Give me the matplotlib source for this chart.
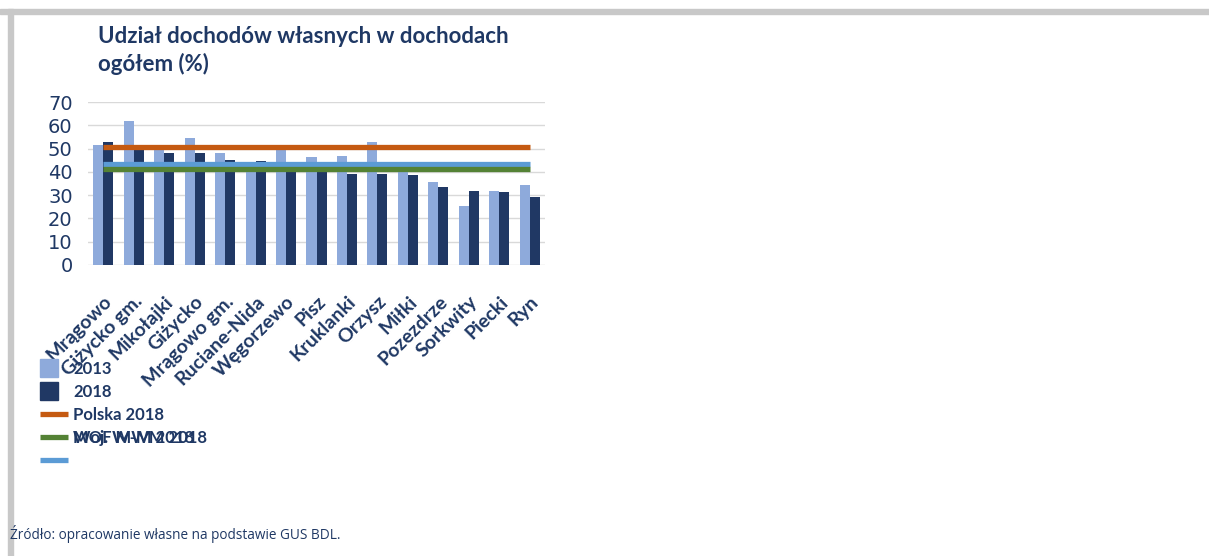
import numpy as np
import matplotlib
matplotlib.use("Agg")
import matplotlib.pyplot as plt
from matplotlib.patches import Rectangle
from matplotlib.legend_handler import HandlerPatch

gminy = ["Mrągowo", "Giżycko gm.", "Mikołajki", "Giżycko", "Mrągowo gm.",
         "Ruciane-Nida", "Węgorzewo", "Pisz", "Kruklanki", "Orzysz", "Miłki",
         "Pozezdrze", "Sorkwity", "Piecki", "Ryn"]
v2013 = [51.6, 61.7, 50.2, 54.5, 48.1, 44.0, 49.8, 46.2, 46.8, 52.8, 41.5,
         35.7, 25.4, 31.9, 34.3]
v2018 = [52.7, 49.2, 48.1, 48.1, 45.0, 44.8, 42.0, 40.5, 39.2, 39.2, 38.6,
         33.4, 31.6, 31.4, 29.0]
polska_2018 = [50.6] * len(gminy)
woj_2018 = [41.3] * len(gminy)
mof_2018 = [43.3] * len(gminy)

navy = "#1f3864"
c2013 = "#8eaadb"
c2018 = "#203864"

fig = plt.figure(figsize=(12.09, 5.56), dpi=100)

# szara ramka u gory i z lewej
fig.patches.append(Rectangle((0, 1 - 14 / 556), 1, 5 / 556, transform=fig.transFigure,
                             color="#c8c8c8", zorder=0))
fig.patches.append(Rectangle((8 / 1209, 0), 5 / 1209, 1 - 9 / 556, transform=fig.transFigure,
                             color="#c8c8c8", zorder=0))

ax = fig.add_axes([88 / 1209, 1 - 265 / 556, 457 / 1209, 163 / 556])

x = np.arange(len(gminy))
w = 0.33
b1 = ax.bar(x - w / 2, v2013, w, color=c2013, zorder=2)
b2 = ax.bar(x + w / 2, v2018, w, color=c2018, zorder=2)
l1, = ax.plot(x, polska_2018, color="#c55a11", lw=3.8, zorder=3, solid_capstyle="butt")
l3, = ax.plot(x, mof_2018, color="#5b9bd5", lw=3.8, zorder=3, solid_capstyle="butt")
l2, = ax.plot(x, woj_2018, color="#548235", lw=3.8, zorder=3, solid_capstyle="butt")

ax.set_xlim(-0.5, len(gminy) - 0.5)
ax.set_ylim(0, 70)
ax.set_yticks(range(0, 71, 10))
ax.grid(axis="y", color="#d9d9d9", lw=1, zorder=0)
for s in ax.spines.values():
    s.set_visible(False)
ax.tick_params(axis="y", length=0, pad=11, labelsize=14, labelcolor=navy)
ax.tick_params(axis="x", length=0, pad=20)
ax.set_xticks(x)
ax.set_xticklabels(gminy, rotation=45, ha="right", va="top", rotation_mode="anchor",
                   fontsize=14, fontweight="bold", color=navy, family="Lato")

# tytul (dwie linie)
fig.text(98 / 1209, 1 - 43 / 556, "Udział dochodów własnych w dochodach",
         ha="left", va="baseline", fontsize=16, fontweight="bold", color=navy, family="Lato")
fig.text(98 / 1209, 1 - 71 / 556, "ogółem (%)",
         ha="left", va="baseline", fontsize=16, fontweight="bold", color=navy, family="Lato")


def kwadrat(legend, orig_handle, xdescent, ydescent, width, height, fontsize):
    s = 13
    return Rectangle((-xdescent, -ydescent + height / 2 - s / 2), s, s)


h2013 = Rectangle((0, 0), 1, 1, color=c2013)
h2018 = Rectangle((0, 0), 1, 1, color=c2018)
leg = fig.legend([h2013, h2018, l1, l2, l3],
                 ["2013", "2018", "Polska 2018", "Woj. W-M 2018", " "],
                 loc="upper left", bbox_to_anchor=(40 / 1209, 1 - 361 / 556),
                 frameon=False, handlelength=1.68, handletextpad=0.3,
                 labelspacing=0.42, borderaxespad=0, borderpad=0,
                 handler_map={Rectangle: HandlerPatch(patch_func=kwadrat)},
                 prop={"family": "Lato", "weight": "bold", "size": 12})
for t in leg.get_texts():
    t.set_color(navy)

# drugi podpis nachodzacy na etykiete zielonej linii (jak w oryginale)
fig.canvas.draw()
bb = leg.get_texts()[3].get_window_extent()
fig.text(bb.x0 / fig.bbox.width, bb.y0 / fig.bbox.height, "MOF MWM 2018",
         ha="left", va="bottom", fontsize=12, fontweight="bold", color=navy,
         family="Lato")

fig.text(10 / 1209, 1 - 534 / 556, "Źródło: opracowanie własne na podstawie GUS BDL.",
         ha="left", va="center", fontsize=9.8, color=navy, family="Open Sans")

fig.savefig("out.png", dpi=100)
